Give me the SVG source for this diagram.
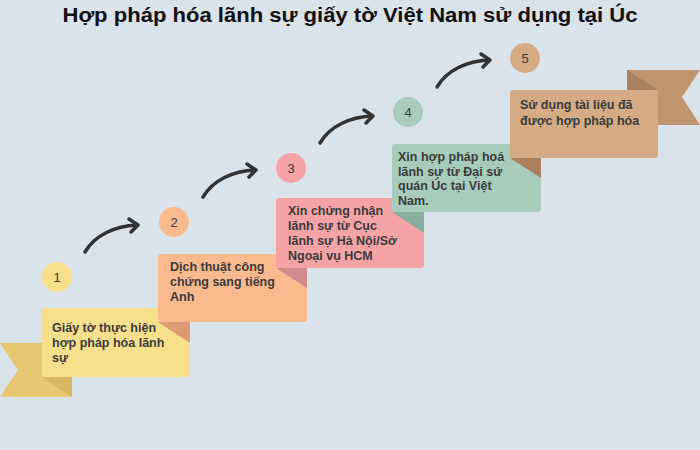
<svg xmlns="http://www.w3.org/2000/svg" width="700" height="450" viewBox="0 0 700 450">
<defs>
<style>
.title{font-family:"Liberation Sans",Arial,sans-serif;font-weight:bold;font-size:20px;fill:#111}
.lbl{font-family:"Liberation Sans",Arial,sans-serif;font-weight:bold;font-size:12.5px;fill:#3b3b3b}
.num{font-family:"Liberation Sans",Arial,sans-serif;font-size:13px;fill:#3b3b3b;text-anchor:middle}
.arr{fill:none;stroke:#333;stroke-width:3.5;stroke-linecap:round;stroke-linejoin:round}
</style>
</defs>
<rect width="700" height="450" fill="#DAE2EA"/>
<text class="title" x="350" y="22" text-anchor="middle" textLength="575" lengthAdjust="spacingAndGlyphs">Hợp pháp hóa lãnh sự giấy tờ Việt Nam sử dụng tại Úc</text>

<g id="tail1">
<polygon points="0,343 72,343 72,397 0,397 18,370" fill="#E6C872"/>
<polygon points="42,377 72,377 72,397" fill="#D6B862"/>
</g>
<g id="tail5">
<polygon points="627,70 700,70 682,97 700,125 627,125" fill="#BF956F"/>
<polygon points="627,70 658,90 627,90" fill="#A98160"/>
</g>

<g id="node1">
<circle cx="57" cy="277" r="15" fill="#F8DF8C"/>
<text class="num" x="57" y="282">1</text>
<rect x="42" y="308" width="148" height="69" rx="3" fill="#F8DF8C"/>
<text class="lbl" x="52"><tspan x="52" y="332">Giấy tờ thực hiện</tspan><tspan x="52" y="347">hợp pháp hóa lãnh</tspan><tspan x="52" y="362">sự</tspan></text>
</g>
<g id="node2">
<circle cx="174" cy="222" r="15" fill="#FBB98E"/>
<text class="num" x="174" y="227">2</text>
<rect x="158" y="254" width="149" height="68" rx="3" fill="#FBB98E"/>
<polygon points="158,322 190,322 190,343" fill="#DD9A74"/>
<text class="lbl"><tspan x="170" y="271">Dịch thuật công</tspan><tspan x="170" y="286">chứng sang tiếng</tspan><tspan x="170" y="301">Anh</tspan></text>
</g>
<g id="node3">
<circle cx="291" cy="168" r="15" fill="#F5A3A4"/>
<text class="num" x="291" y="173">3</text>
<rect x="276" y="198" width="148" height="70" rx="3" fill="#F5A3A4"/>
<polygon points="276,268 307,268 307,288" fill="#D48A8D"/>
<text class="lbl"><tspan x="288" y="215">Xin chứng nhận</tspan><tspan x="288" y="230">lãnh sự từ Cục</tspan><tspan x="288" y="245">lãnh sự Hà Nội/Sở</tspan><tspan x="288" y="260">Ngoại vụ HCM</tspan></text>
</g>
<g id="node4">
<circle cx="408" cy="112" r="15" fill="#A8CCBB"/>
<text class="num" x="408" y="117">4</text>
<rect x="392" y="144" width="149" height="68" rx="3" fill="#A8CCBB"/>
<polygon points="392,212 424,212 424,233" fill="#8AAE9D"/>
<text class="lbl"><tspan x="398" y="161">Xin hợp pháp hoá</tspan><tspan x="398" y="176">lãnh sự từ Đại sứ</tspan><tspan x="398" y="190">quán Úc tại Việt</tspan><tspan x="398" y="205">Nam.</tspan></text>
</g>
<g id="node5">
<circle cx="525" cy="58" r="15" fill="#D5AB85"/>
<text class="num" x="525" y="63">5</text>
<rect x="510" y="90" width="148" height="68" rx="3" fill="#D5AB85"/>
<polygon points="510,158 541,158 541,178" fill="#A98160"/>
<text class="lbl"><tspan x="520" y="109">Sử dụng tài liệu đã</tspan><tspan x="520" y="125">được hợp pháp hóa</tspan></text>
</g>

<g id="connectors">
<path class="arr" d="M85,252 C95,235 115,226 137,225 M129,219 L138,225 L131,232"/>
<path class="arr" d="M203,197 C213,180 233,171 255,170 M247,164 L256,170 L249,177"/>
<path class="arr" d="M320,143 C330,126 350,117 372,116 M364,110 L373,116 L366,123"/>
<path class="arr" d="M437,87 C447,70 467,61 489,60 M481,54 L490,60 L483,67"/>
</g>
</svg>
